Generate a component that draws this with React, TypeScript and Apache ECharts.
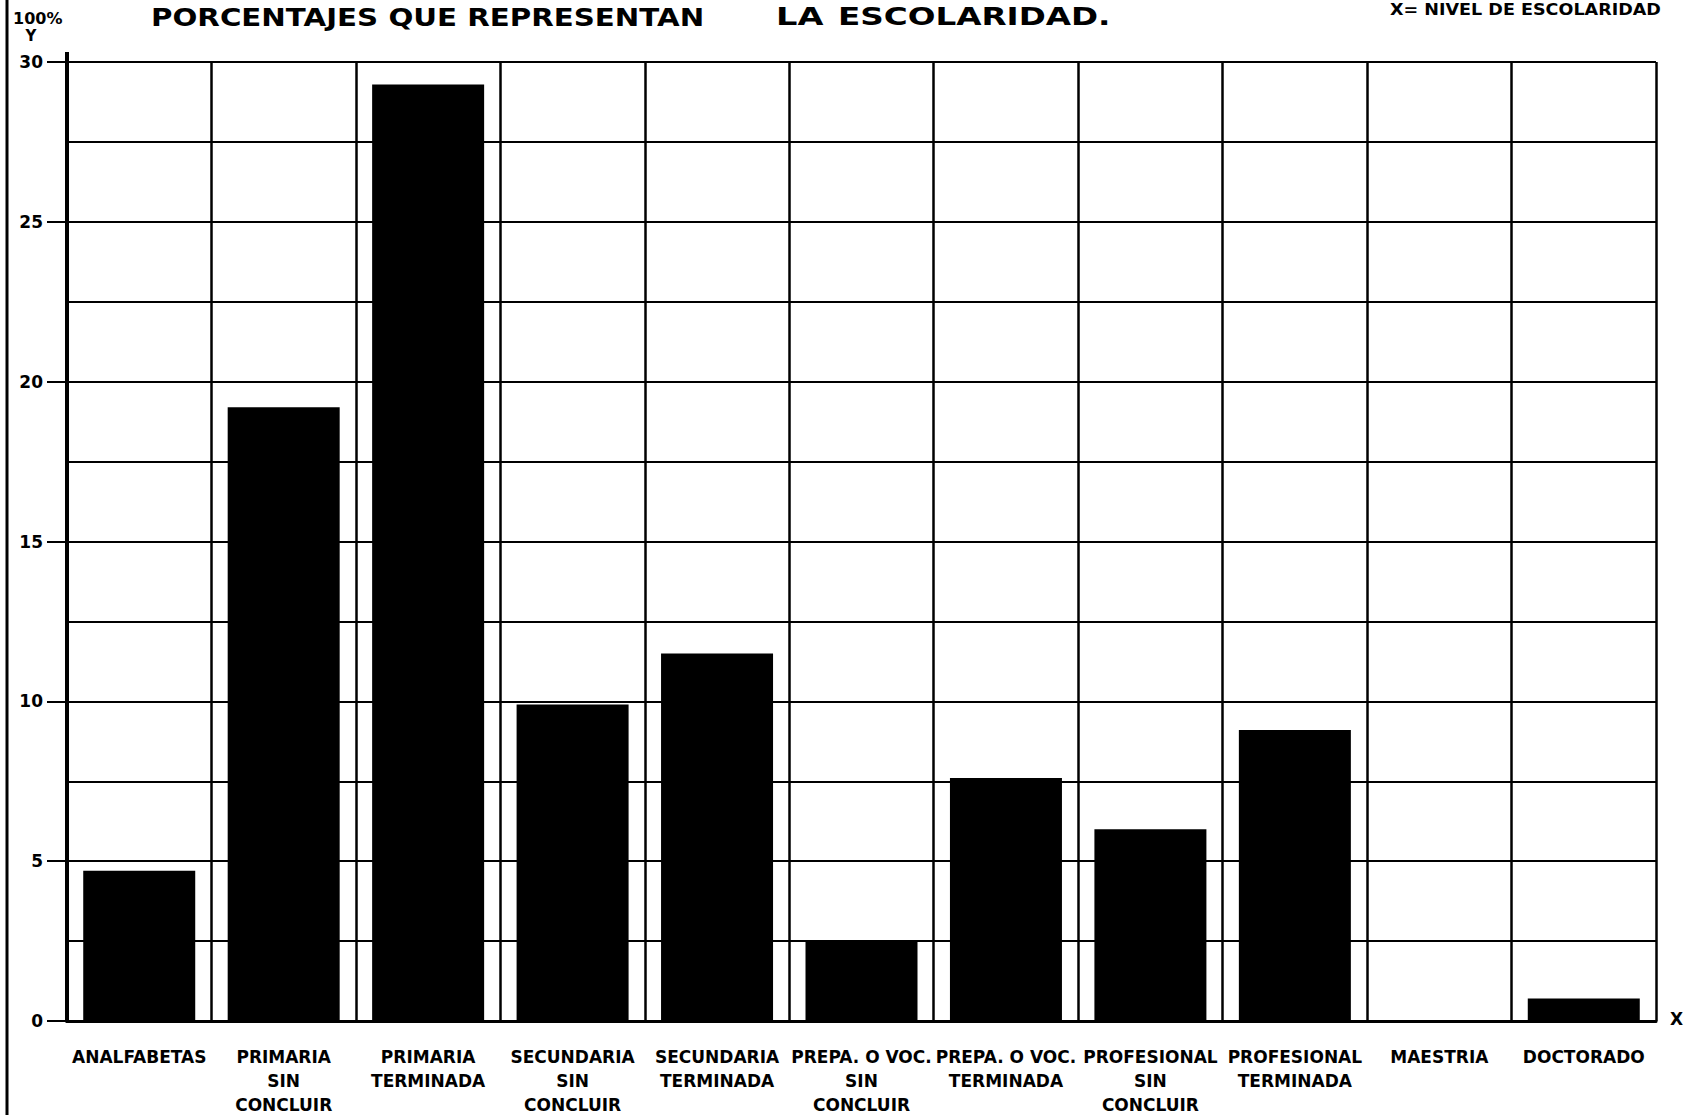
import React, { useEffect, useRef } from "react";
import * as echarts from "echarts";

const categories = [
  "ANALFABETAS",
  "PRIMARIA\nSIN\nCONCLUIR",
  "PRIMARIA\nTERMINADA",
  "SECUNDARIA\nSIN\nCONCLUIR",
  "SECUNDARIA\nTERMINADA",
  "PREPA. O VOC.\nSIN\nCONCLUIR",
  "PREPA. O VOC.\nTERMINADA",
  "PROFESIONAL\nSIN\nCONCLUIR",
  "PROFESIONAL\nTERMINADA",
  "MAESTRIA",
  "DOCTORADO",
];

const percentages = [4.7, 19.2, 29.3, 9.9, 11.5, 2.5, 7.6, 6.0, 9.1, 0, 0.7];

const yMin = 0;
const yMax = 30;
const yStep = 5;

const titleMain = "PORCENTAJES QUE REPRESENTAN";
const titleLa = "LA";
const titleEsc = "ESCOLARIDAD.";
const xNote = "X= NIVEL DE ESCOLARIDAD";
const yUnit = "100%";
const yName = "Y";
const xName = "X";

const FONT = "DejaVu Sans";

export default function App() {
  const ref = useRef<HTMLDivElement>(null);

  useEffect(() => {
    document.body.style.margin = "0";
    const chart = echarts.init(ref.current!, null, { renderer: "svg" });
    chart.setOption({
      animation: false,
      backgroundColor: "#ffffff",
      grid: { left: 67, right: 33, top: 62, bottom: 98, containLabel: false },
      xAxis: {
        type: "category",
        data: categories,
        boundaryGap: true,
        axisLine: { show: true, lineStyle: { color: "#000", width: 3 } },
        axisTick: { show: false },
        splitLine: { show: true, interval: 0, lineStyle: { color: "#000", width: 2.5 } },
        axisLabel: {
          interval: 0,
          color: "#000",
          fontFamily: FONT,
          fontWeight: "bold",
          fontSize: 17,
          lineHeight: 24,
          margin: 24,
        },
      },
      yAxis: {
        type: "value",
        min: yMin,
        max: yMax,
        interval: yStep,
        axisLine: { show: true, lineStyle: { color: "#000", width: 4 } },
        axisTick: { show: true, length: 20, lineStyle: { color: "#000", width: 2 } },
        axisLabel: {
          color: "#000",
          fontFamily: FONT,
          fontWeight: "bold",
          fontSize: 17,
          margin: 24,
        },
        splitLine: { show: true, lineStyle: { color: "#000", width: 2 } },
        minorTick: { show: false, splitNumber: 2 },
        minorSplitLine: { show: true, lineStyle: { color: "#000", width: 2 } },
      },
      series: [
        {
          type: "bar",
          data: percentages,
          barWidth: 112,
          itemStyle: { color: "#000" },
          z: 5,
        },
      ],
      graphic: [
        {
          type: "line",
          shape: { x1: 7, y1: 0, x2: 7, y2: 1115 },
          style: { stroke: "#000", lineWidth: 3 },
        },
        {
          type: "line",
          shape: { x1: 67, y1: 52, x2: 67, y2: 62 },
          style: { stroke: "#000", lineWidth: 4 },
        },
        {
          type: "text",
          x: 151,
          y: 17,
          scaleX: 1.22,
          style: {
            text: titleMain,
            fill: "#000",
            font: `bold 24px "${FONT}"`,
            verticalAlign: "middle",
          },
        },
        {
          type: "text",
          x: 776,
          y: 17,
          scaleX: 1.4,
          style: {
            text: titleLa,
            fill: "#000",
            font: `bold 24px "${FONT}"`,
            verticalAlign: "middle",
          },
        },
        {
          type: "text",
          x: 838,
          y: 17,
          scaleX: 1.36,
          style: {
            text: titleEsc,
            fill: "#000",
            font: `bold 24px "${FONT}"`,
            verticalAlign: "middle",
          },
        },
        {
          type: "text",
          x: 1390,
          y: 10,
          scaleX: 1.17,
          style: {
            text: xNote,
            fill: "#000",
            font: `bold 15px "${FONT}"`,
            verticalAlign: "middle",
          },
        },
        {
          type: "text",
          x: 13,
          y: 18,
          style: {
            text: yUnit,
            fill: "#000",
            font: `bold 16px "${FONT}"`,
            verticalAlign: "middle",
          },
        },
        {
          type: "text",
          x: 31,
          y: 36,
          style: {
            text: yName,
            fill: "#000",
            font: `bold 15px "${FONT}"`,
            align: "center",
            verticalAlign: "middle",
          },
        },
        {
          type: "text",
          x: 1670,
          y: 1019,
          style: {
            text: xName,
            fill: "#000",
            font: `bold 17px "${FONT}"`,
            verticalAlign: "middle",
          },
        },
      ],
    });
    return () => chart.dispose();
  }, []);

  return <div ref={ref} style={{ width: 1689, height: 1119, background: "#fff" }} />;
}
